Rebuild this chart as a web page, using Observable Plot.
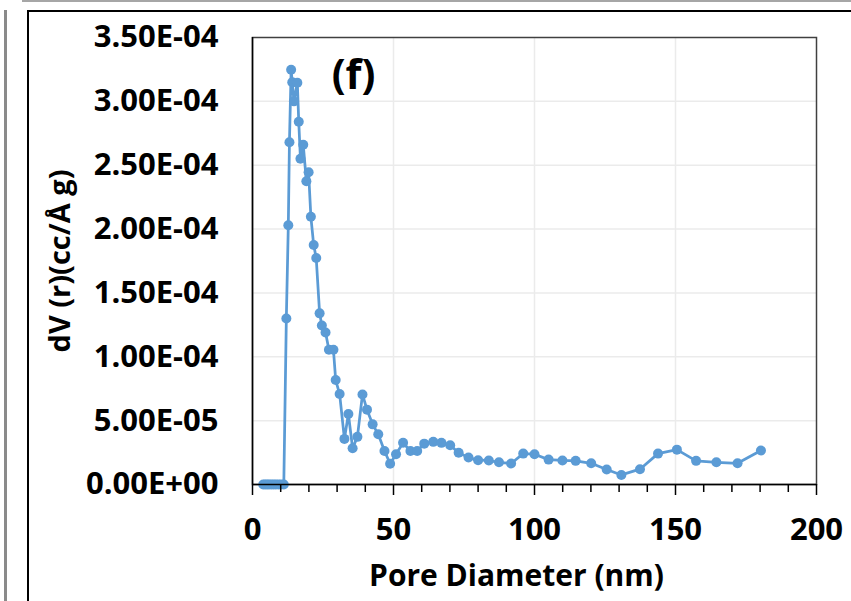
<!DOCTYPE html>
<html>
<head>
<meta charset="utf-8">
<script src="https://cdn.jsdelivr.net/npm/d3@7"></script>
<script src="https://cdn.jsdelivr.net/npm/@observablehq/plot@0.6"></script>
<style>
  html, body { margin: 0; padding: 0; background: #fff; }
  #wrap { position: relative; width: 851px; height: 601px; overflow: hidden; background: #fff; }
  #wrap svg { position: absolute; left: 0; top: 0; }
  .deco { position: absolute; }
</style>
</head>
<body>
<div id="wrap">
  <div class="deco" style="left:22px; top:0px; width:840px; height:0; border-top:2px solid #a6a6a6;"></div>
  <div class="deco" style="left:4px; top:10px; width:0; height:600px; border-left:3px solid #8a8a8a;"></div>
  <div class="deco" style="left:27px; top:10px; width:840px; height:600px; border-left:2px solid #000; border-top:2.5px solid #000;"></div>
</div>
<script>
// Pore diameter (nm)
const poreDiameter = [
  3.8, 4.5, 5.2, 5.9, 6.7, 7.5, 8.3, 9.2, 10.1, 11.1,
  12.0, 12.7, 13.1, 13.7, 14.1, 14.7, 15.9, 16.4, 17.0, 18.0,
  19.1, 19.9, 20.7, 21.7, 22.6, 23.8, 24.6, 25.9, 27.1, 28.7,
  29.5, 30.9, 32.6, 34.0, 35.5, 37.2, 39.0, 40.6, 42.6, 44.6,
  46.8, 48.8, 50.9, 53.4, 56.0, 58.4, 60.9, 64.1, 67.0, 70.1,
  73.1, 76.6, 80.0, 83.8, 87.4, 91.7, 96.0, 100.0, 105.0, 109.9,
  114.6, 120.1, 125.6, 130.8, 137.4, 143.8, 150.5, 157.3, 164.5, 172.0,
  180.3
];
// dV(r) (cc/Å g)
const dV = [
  0, 0, 0, 0, 0, 0, 0, 0, 0, 0,
  1.30e-4, 2.03e-4, 2.68e-4, 3.247e-4, 3.15e-4, 3.0e-4, 3.146e-4, 2.84e-4, 2.55e-4, 2.66e-4,
  2.375e-4, 2.445e-4, 2.096e-4, 1.875e-4, 1.773e-4, 1.34e-4, 1.245e-4, 1.19e-4, 1.055e-4, 1.055e-4,
  8.18e-5, 7.08e-5, 3.57e-5, 5.52e-5, 2.84e-5, 3.73e-5, 7.05e-5, 5.86e-5, 4.71e-5, 3.93e-5,
  2.63e-5, 1.62e-5, 2.37e-5, 3.27e-5, 2.62e-5, 2.62e-5, 3.2e-5, 3.34e-5, 3.26e-5, 3.07e-5,
  2.48e-5, 2.11e-5, 1.9e-5, 1.88e-5, 1.74e-5, 1.64e-5, 2.42e-5, 2.37e-5, 1.95e-5, 1.88e-5,
  1.85e-5, 1.66e-5, 1.17e-5, 7.5e-6, 1.2e-5, 2.42e-5, 2.73e-5, 1.85e-5, 1.74e-5, 1.66e-5,
  2.66e-5
];
const xMajorTicks = [0, 50, 100, 150, 200];
const xTickLabels = ["0", "50", "100", "150", "200"];
const xMinorTicks = [10, 20, 30, 40, 60, 70, 80, 90, 110, 120, 130, 140, 160, 170, 180, 190];
const yTicks = [0, 5e-5, 1e-4, 1.5e-4, 2e-4, 2.5e-4, 3e-4, 3.5e-4];
const yTickLabels = ["0.00E+00", "5.00E-05", "1.00E-04", "1.50E-04", "2.00E-04", "2.50E-04", "3.00E-04", "3.50E-04"];
const xTitle = "Pore Diameter (nm)";
const yTitle = "dV (r)(cc/Å g)";
const panelLabel = "(f)";

const data = poreDiameter.map((x, i) => ({x, y: dV[i]}));
const blue = "#5b9bd5";
const font = "'Open Sans', sans-serif";

const chart = Plot.plot({
  width: 851,
  height: 601,
  marginLeft: 252,
  marginRight: 35,
  marginTop: 37,
  marginBottom: 117,
  style: {fontFamily: font, background: "transparent", color: "#000"},
  x: {domain: [0, 200]},
  y: {domain: [0, 3.5e-4]},
  marks: [
    Plot.gridX([50, 100, 150], {stroke: "#ebebeb", strokeOpacity: 1, strokeWidth: 1.5}),
    Plot.gridY(yTicks.slice(1, -1), {stroke: "#ebebeb", strokeOpacity: 1, strokeWidth: 1.5}),
    Plot.frame({stroke: "#404040", strokeWidth: 1.5}),
    Plot.line(data, {x: "x", y: "y", stroke: blue, strokeWidth: 2.75}),
    Plot.dot(data, {x: "x", y: "y", r: 5, fill: blue, stroke: "none"}),
    Plot.ruleX([0], {stroke: "#000", strokeWidth: 1.5}),
    Plot.ruleY([0], {stroke: "#000", strokeWidth: 1.5}),
    Plot.axisX(xMinorTicks, {tickSize: 8, tickFormat: () => "", stroke: "#000", strokeWidth: 1.5, label: null}),
    Plot.axisX(xMajorTicks, {
      tickSize: 11, tickPadding: 22, stroke: "#000", strokeWidth: 1.5,
      tickFormat: d => xTickLabels[xMajorTicks.indexOf(d)],
      fontSize: 31, fontWeight: "bold", label: null
    }),
    Plot.axisY(yTicks, {
      tickSize: 0, tickPadding: 34,
      tickFormat: d => yTickLabels[yTicks.indexOf(d)],
      fontSize: 31, fontWeight: "bold", label: null
    }),
    Plot.text([xTitle], {
      text: d => d, frameAnchor: "bottom", dx: -18, dy: 101, lineAnchor: "bottom",
      fontSize: 30, fontWeight: "bold"
    }),
    Plot.text([yTitle], {
      text: d => d, frameAnchor: "left", dx: -192, rotate: -90, textAnchor: "middle", lineAnchor: "middle",
      fontSize: 29, fontWeight: "bold"
    }),
    Plot.text([panelLabel], {
      text: d => d, frameAnchor: "top-left", dx: 101, dy: 51, lineAnchor: "bottom", textAnchor: "middle",
      fontSize: 41, fontWeight: "bold"
    })
  ]
});
document.getElementById("wrap").appendChild(chart);
</script>
</body>
</html>
